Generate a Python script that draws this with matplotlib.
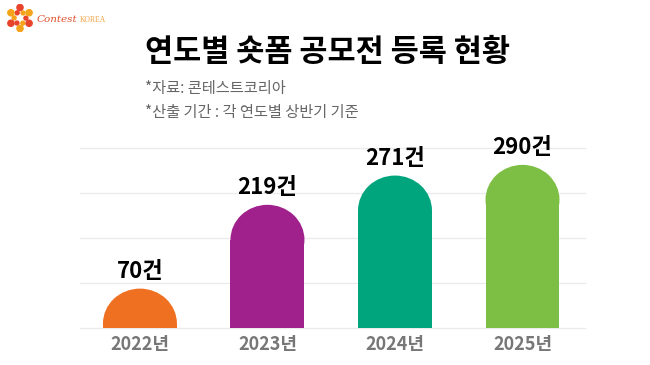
import numpy as np
import matplotlib
matplotlib.use("Agg")
import matplotlib.pyplot as plt
from matplotlib.patches import Ellipse, Circle

plt.rcParams['font.family'] = ['Noto Sans CJK KR', 'DejaVu Sans']

# data
years = ['2022년', '2023년', '2024년', '2025년']
counts = [70, 219, 271, 290]
value_labels = ['70건', '219건', '271건', '290건']
colors = ['#F07022', '#A0218C', '#00A57E', '#7DBF45']
grid_ticks = [0, 80, 160, 240, 320]

fig = plt.figure(figsize=(6.5, 3.65), dpi=100)
fig.patch.set_facecolor('white')

ax = fig.add_axes([80 / 650, 1 - 328 / 365, 505 / 650, 180 / 365])
ax.set_xlim(-0.47, 3.49)
ax.set_ylim(0, 320)

bar_w = 0.58
cap_h = 62  # half height of the rounded top, in data units

x = np.arange(len(years))
for i, (v, c) in enumerate(zip(counts, colors)):
    body = max(v - cap_h, 0)
    if body > 0:
        ax.bar(x[i], body, width=bar_w, color=c, zorder=2)
    ax.add_patch(Ellipse((x[i], v - cap_h), bar_w, 2 * cap_h, color=c, zorder=2, lw=0))
    ax.annotate(value_labels[i], (x[i], v), xytext=(0, 4), textcoords='offset points',
                ha='center', va='bottom', fontsize=16, fontweight='heavy', color='black')

for g in grid_ticks:
    ax.axhline(g, color='#ebebeb', lw=1, zorder=1, clip_on=False)

ax.set_xticks(x)
ax.set_xticklabels(years, fontsize=13, fontweight='heavy', color='#777777')
ax.tick_params(axis='x', length=0, pad=5)
ax.set_yticks([])
for s in ax.spines.values():
    s.set_visible(False)

# title block
fig.text(145 / 650, 1 - 52 / 365, '연도별 숏폼 공모전 등록 현황', fontsize=22, fontweight='heavy',
         color='black', va='center', ha='left')
fig.text(145 / 650, 1 - 88 / 365, '*자료: 콘테스트코리아', fontsize=11, color='#666666',
         va='center', ha='left')
fig.text(145 / 650, 1 - 113 / 365, '*산출 기간 : 각 연도별 상반기 기준', fontsize=11, color='#666666',
         va='center', ha='left')

# logo
lax = fig.add_axes([6 / 650, 1 - 32 / 365, 28 / 650, 28 / 365])
lax.set_xlim(-1, 1)
lax.set_ylim(-1, 1)
lax.set_aspect('equal')
lax.axis('off')
for k in range(6):
    a = np.pi / 2 + k * np.pi / 3
    col = '#E8432B' if k % 2 == 0 else '#F5A31A'
    lax.add_patch(Circle((0.75 * np.cos(a), 0.75 * np.sin(a)), 0.22, color=col))
    lax.add_patch(Circle((0.42 * np.cos(a + 0.5), 0.42 * np.sin(a + 0.5)), 0.14, color=col))
fig.text(37 / 650, 1 - 19 / 365, 'Contest', fontsize=7.5, family='DejaVu Serif', style='italic',
         color='#E0502E', va='center', ha='left')
fig.text(80 / 650, 1 - 20 / 365, 'KOREA', fontsize=5.5, family='Liberation Serif',
         color='#F0A040', va='center', ha='left')

fig.savefig('out.png', dpi=100, facecolor='white')
